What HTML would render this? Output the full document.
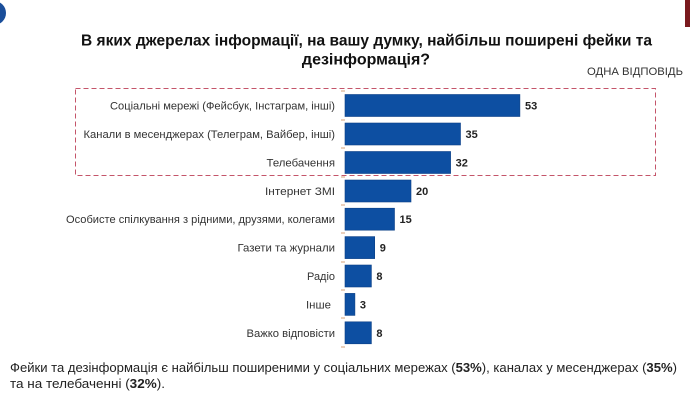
<!DOCTYPE html>
<html>
<head>
<meta charset="utf-8">
<style>
  html,body{margin:0;padding:0;background:#fff;}
  svg{display:block;}
  text{font-family:"Liberation Sans","DejaVu Sans",sans-serif;}
</style>
</head>
<body>
<svg width="690" height="400" viewBox="0 0 690 400" xmlns="http://www.w3.org/2000/svg">
  <rect x="0" y="0" width="690" height="400" fill="#ffffff"/>
  <!-- corner decorations -->
  <circle cx="-6" cy="13" r="12" fill="#1a4e9a"/>
  <rect x="685" y="0" width="5" height="27" fill="#7a1a1e"/>

  <!-- title -->
  <text x="81" y="45.5" font-size="16" font-weight="bold" fill="#111" textLength="571" lengthAdjust="spacingAndGlyphs">В яких джерелах інформації, на вашу думку, найбільш поширені фейки та</text>
  <text x="366" y="64.5" font-size="16" font-weight="bold" fill="#111" text-anchor="middle">дезінформація?</text>
  <text x="587" y="75" font-size="11" fill="#333" textLength="96" lengthAdjust="spacingAndGlyphs">ОДНА  ВІДПОВІДЬ</text>

  <!-- dashed highlight box -->
  <rect x="75.5" y="88.5" width="580" height="87" fill="none" stroke="#c4556a" stroke-width="1" stroke-dasharray="5,3"/>

  <!-- axis ticks -->
  <g stroke="#d6a27a" stroke-width="1">
    <line x1="341" y1="91" x2="345" y2="91"/>
    <line x1="341" y1="120" x2="345" y2="120"/>
    <line x1="341" y1="148" x2="345" y2="148"/>
    <line x1="341" y1="177" x2="345" y2="177"/>
    <line x1="341" y1="205" x2="345" y2="205"/>
    <line x1="341" y1="233" x2="345" y2="233"/>
    <line x1="341" y1="262" x2="345" y2="262"/>
    <line x1="341" y1="290" x2="345" y2="290"/>
    <line x1="341" y1="318" x2="345" y2="318"/>
    <line x1="341" y1="347" x2="345" y2="347"/>
  </g>

  <!-- bars -->
  <g fill="#0d4fa2" stroke="#0a3f86" stroke-width="0.6">
    <rect x="345" y="94.5" width="174.9" height="22"/>
    <rect x="345" y="123" width="115.5" height="22"/>
    <rect x="345" y="151.5" width="105.6" height="22"/>
    <rect x="345" y="180" width="66" height="22"/>
    <rect x="345" y="208.2" width="49.5" height="22"/>
    <rect x="345" y="236.6" width="29.7" height="22"/>
    <rect x="345" y="265" width="26.4" height="22"/>
    <rect x="345" y="293.4" width="9.9" height="22"/>
    <rect x="345" y="321.8" width="26.4" height="22"/>
  </g>

  <!-- labels -->
  <g font-size="11" fill="#333" text-anchor="end">
    <text x="335" y="109.5" textLength="225" lengthAdjust="spacingAndGlyphs">Соціальні мережі (Фейсбук, Інстаграм, інші)</text>
    <text x="335" y="138" textLength="251.5" lengthAdjust="spacingAndGlyphs">Канали в месенджерах (Телеграм, Вайбер, інші)</text>
    <text x="335" y="166.5" textLength="68.5" lengthAdjust="spacingAndGlyphs">Телебачення</text>
    <text x="335" y="195" textLength="70" lengthAdjust="spacingAndGlyphs">Інтернет ЗМІ</text>
    <text x="335" y="223.2" textLength="269" lengthAdjust="spacingAndGlyphs">Особисте спілкування з рідними, друзями, колегами</text>
    <text x="335" y="251.6" textLength="97.5" lengthAdjust="spacingAndGlyphs">Газети та журнали</text>
    <text x="335" y="280" textLength="28" lengthAdjust="spacingAndGlyphs">Радіо</text>
    <text x="331" y="308.4" textLength="25" lengthAdjust="spacingAndGlyphs">Інше</text>
    <text x="335" y="336.8" textLength="88.5" lengthAdjust="spacingAndGlyphs">Важко відповісти</text>
  </g>

  <!-- values -->
  <g font-size="11" font-weight="bold" fill="#222">
    <text x="525" y="109.5">53</text>
    <text x="465.5" y="138">35</text>
    <text x="455.6" y="166.5">32</text>
    <text x="416" y="195">20</text>
    <text x="399.5" y="223.2">15</text>
    <text x="379.7" y="251.6">9</text>
    <text x="376.4" y="280">8</text>
    <text x="359.9" y="308.4">3</text>
    <text x="376.4" y="336.8">8</text>
  </g>

  <!-- footer -->
  <text x="10" y="372" font-size="13" fill="#222" textLength="667" lengthAdjust="spacingAndGlyphs">Фейки та дезінформація є найбільш поширеними у соціальних мережах (<tspan font-weight="bold">53%</tspan>), каналах у месенджерах (<tspan font-weight="bold">35%</tspan>)</text>
  <text x="10" y="388" font-size="13" fill="#222" textLength="155" lengthAdjust="spacingAndGlyphs">та на телебаченні (<tspan font-weight="bold">32%</tspan>).</text>
</svg>
</body>
</html>
